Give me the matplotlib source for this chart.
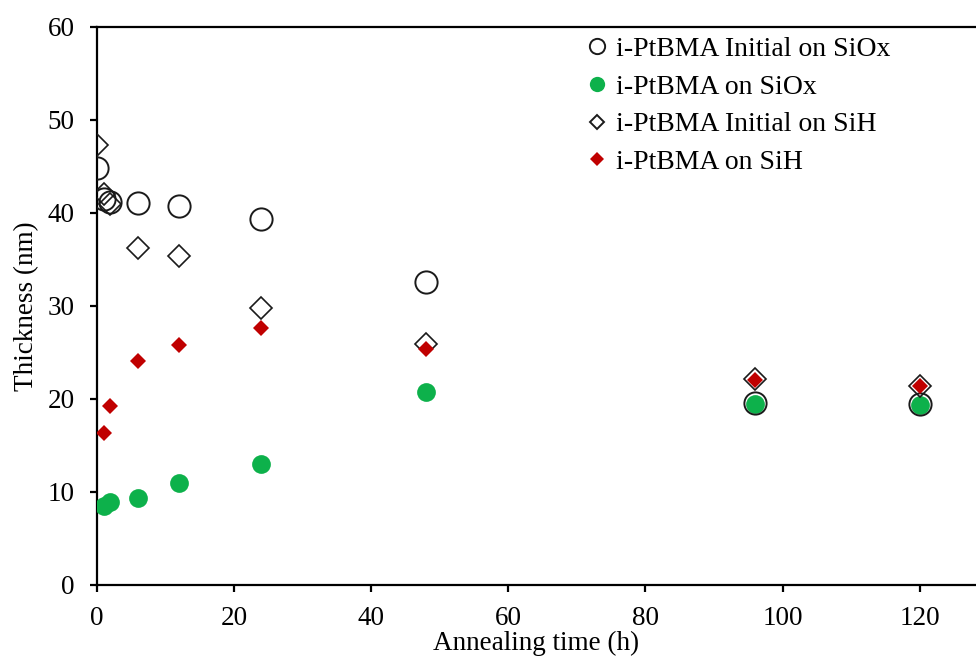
import matplotlib
matplotlib.use("Agg")
import matplotlib.pyplot as plt
from matplotlib.lines import Line2D

plt.rcParams['font.family'] = ['Liberation Serif', 'DejaVu Serif']

# Data
t_init_siox = [0, 1, 2, 6, 12, 24, 48, 96, 120]
th_init_siox = [44.8, 41.5, 41.2, 41.1, 40.7, 39.4, 32.6, 19.6, 19.5]

t_siox = [1, 2, 6, 12, 24, 48, 96, 120]
th_siox = [8.5, 8.9, 9.4, 11.0, 13.0, 20.8, 19.5, 19.4]

t_init_sih = [0, 1, 2, 6, 12, 24, 48, 96, 120]
th_init_sih = [47.3, 42.0, 41.0, 36.2, 35.4, 29.8, 25.9, 22.1, 21.4]

t_sih = [1, 2, 6, 12, 24, 48, 96, 120]
th_sih = [16.3, 19.2, 24.1, 25.8, 27.6, 25.4, 22.0, 21.4]

labels = ["i-PtBMA Initial on SiOx", "i-PtBMA on SiOx",
          "i-PtBMA Initial on SiH", "i-PtBMA on SiH"]
xticks = [0, 20, 40, 60, 80, 100, 120]
yticks = [0, 10, 20, 30, 40, 50, 60]

green = '#0DB14B'
red = '#C00000'
FS = 19.5

fig = plt.figure(figsize=(9.76, 6.58), dpi=100)
ax = fig.add_axes([0.0991, 0.111, 0.9009, 0.848])

ax.plot(t_siox, th_siox, linestyle='none', marker='o', ms=13.5,
        mfc=green, mec=green, mew=0, zorder=3)
ax.plot(t_init_siox, th_init_siox, linestyle='none', marker='o', ms=16,
        mfc='none', mec='#1a1a1a', mew=1.4, zorder=4)
ax.plot(t_sih, th_sih, linestyle='none', marker='D', ms=8.2,
        mfc=red, mec=red, mew=0, zorder=5)
ax.plot(t_init_sih, th_init_sih, linestyle='none', marker='D', ms=11,
        mfc='none', mec='#1a1a1a', mew=1.2, zorder=4)

ax.set_xlim(0, 128.2)
ax.set_ylim(0, 60)
ax.set_xticks(xticks)
ax.set_yticks(yticks)
ax.spines['right'].set_visible(False)
for s in ['left', 'bottom', 'top']:
    ax.spines[s].set_linewidth(1.6)
    ax.spines[s].set_color('black')
ax.tick_params(direction='out', length=5, width=1.6, labelsize=FS,
               colors='black')
ax.tick_params(axis='x', pad=10)
ax.tick_params(axis='y', pad=11)
ax.set_xlabel("Annealing time (h)", fontsize=FS, labelpad=0)
ax.set_ylabel("Thickness (nm)", fontsize=FS, labelpad=6)

handles = [
    Line2D([], [], linestyle='none', marker='o', ms=11, mfc='none', mec='#1a1a1a', mew=1.4),
    Line2D([], [], linestyle='none', marker='o', ms=11, mfc=green, mec=green, mew=0),
    Line2D([], [], linestyle='none', marker='D', ms=7.5, mfc='none', mec='#1a1a1a', mew=1.4),
    Line2D([], [], linestyle='none', marker='D', ms=7.5, mfc=red, mec=red, mew=0),
]
leg = fig.legend(handles, labels, loc='upper left',
                 bbox_to_anchor=(583 / 976, 1 - 36.5 / 658),
                 frameon=False, fontsize=20, handletextpad=0.2, handlelength=1.0,
                 labelspacing=0.44, borderpad=0, borderaxespad=0)

fig.savefig("out.png", dpi=100)
